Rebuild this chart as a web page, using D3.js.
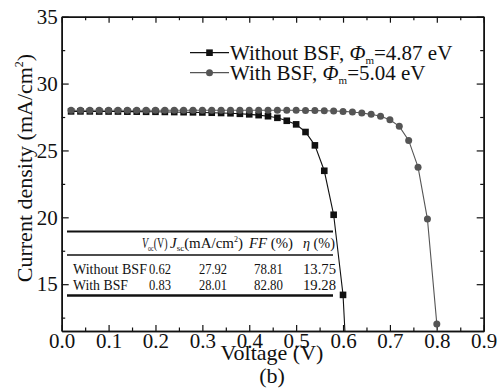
<!DOCTYPE html>
<html><head><meta charset="utf-8">
<script src="https://cdn.jsdelivr.net/npm/d3@7"></script>
</head><body style="margin:0"><svg id="c" width="501" height="389"></svg>
<script>
// ---- data ----
const voltWithout = [0.02,0.04,0.06,0.08,0.10,0.12,0.14,0.16,0.18,0.20,0.22,0.24,0.26,0.28,0.30,0.32,0.34,0.36,0.38,0.40,0.42,0.44,0.46,0.48,0.50,0.52,0.54,0.56,0.58,0.60,0.604];
const curWithout  = [27.92,27.92,27.92,27.91,27.91,27.91,27.90,27.90,27.89,27.89,27.88,27.87,27.86,27.85,27.84,27.82,27.80,27.78,27.74,27.70,27.64,27.56,27.44,27.22,26.95,26.38,25.38,23.48,20.19,14.20,11.5];
const voltWith = [0.02,0.04,0.06,0.08,0.10,0.12,0.14,0.16,0.18,0.20,0.22,0.24,0.26,0.28,0.30,0.32,0.34,0.36,0.38,0.40,0.42,0.44,0.46,0.48,0.50,0.52,0.54,0.56,0.58,0.60,0.62,0.64,0.66,0.68,0.70,0.72,0.74,0.76,0.78,0.80,0.801];
const curWith  = [28.01,28.01,28.01,28.01,28.01,28.01,28.01,28.01,28.01,28.01,28.01,28.01,28.01,28.01,28.01,28.01,28.01,28.01,28.01,28.01,28.01,28.01,28.01,28.00,28.00,27.99,27.98,27.97,27.95,27.92,27.88,27.80,27.70,27.56,27.30,26.80,25.75,23.75,19.87,12.03,11.5];
const seriesNames = ["Without BSF", "With BSF"];
const seriesPhi = ["4.87", "5.04"];
const xTicks = [0.0,0.1,0.2,0.3,0.4,0.5,0.6,0.7,0.8,0.9];
const yTicks = [15,20,25,30,35];
const tableRowNames = ["Without BSF", "With BSF"];
const tableVoc = ["0.62", "0.83"];
const tableJsc = ["27.92", "28.01"];
const tableFF  = ["78.81", "82.80"];
const tableEta = ["13.75", "19.28"];

// ---- layout ----
const F = '"Liberation Serif"';
const svg = d3.select("#c");
const L = 61.7, R = 483.7, T = 16.7, B = 331;
const x = d3.scaleLinear([0, 0.9], [L, R]);
const y = d3.scaleLinear([11.5, 35], [B, T]);
const black = "#111", grey = "#555";
function txt(sel, size){ return sel.attr("font-size",size).style("font-family",F).attr("fill",black); }

// table
const tg = svg.append("g");
tg.append("line").attr("x1",67).attr("x2",333).attr("y1",231.5).attr("y2",231.5).attr("stroke",black).attr("stroke-width",2);
tg.append("line").attr("x1",67).attr("x2",333).attr("y1",255).attr("y2",255).attr("stroke",black).attr("stroke-width",1.3);
tg.append("line").attr("x1",67).attr("x2",333).attr("y1",295.5).attr("y2",295.5).attr("stroke",black).attr("stroke-width",2.5);
function ttext(xp, yp, w){ return txt(tg.append("text").attr("x",xp).attr("y",yp),15).attr("textLength",w).attr("lengthAdjust","spacingAndGlyphs"); }
let h = ttext(142, 248, 25.5);
h.append("tspan").attr("font-style","italic").text("V");
h.append("tspan").attr("font-size",9).attr("dy",3).text("oc");
h.append("tspan").attr("dy",-3).text("(V)");
h = ttext(170, 248, 73);
h.append("tspan").attr("font-style","italic").text("J");
h.append("tspan").attr("font-size",9).attr("dy",3).text("sc");
h.append("tspan").attr("dy",-3).text("(mA/cm");
h.append("tspan").attr("font-size",8).attr("dy",-6).text("2");
h.append("tspan").attr("dy",6).text(")");
h = ttext(249, 248, 44);
h.append("tspan").attr("font-style","italic").text("FF");
h.append("tspan").text(" (%)");
h = ttext(303, 248, 32);
h.append("tspan").attr("font-style","italic").text("η");
h.append("tspan").text(" (%)");
const rowY = [273.5, 290];
const nameW = [74, 55];
tableRowNames.forEach((n,i)=>{
  ttext(73, rowY[i], nameW[i]).text(n);
  ttext(149, rowY[i], 22).text(tableVoc[i]);
  ttext(199, rowY[i], 28).text(tableJsc[i]);
  ttext(254, rowY[i], 29).text(tableFF[i]);
  ttext(303, rowY[i], 33).text(tableEta[i]);
});

// axes
function styleAxis(g){
  g.attr("font-family",null);
  g.selectAll("path").attr("stroke",black).attr("stroke-width",1.5);
  g.selectAll("line").attr("stroke",black).attr("stroke-width",1.2);
  g.selectAll("text").call(s=>txt(s,21));
}
const xMinor = [0.05,0.15,0.25,0.35,0.45,0.55,0.65,0.75,0.85];
const yMinor = [12.5,17.5,22.5,27.5,32.5];
svg.append("g").attr("transform",`translate(0,${B})`)
  .call(d3.axisBottom(x).tickValues(xTicks).tickFormat(d3.format(".1f")).tickSize(-6).tickSizeOuter(0).tickPadding(2)).call(styleAxis);
svg.append("g").attr("transform",`translate(0,${B})`)
  .call(d3.axisBottom(x).tickValues(xMinor).tickFormat("").tickSize(-3.5).tickSizeOuter(0)).call(styleAxis);
svg.append("g").attr("transform",`translate(0,${T})`)
  .call(d3.axisTop(x).tickValues(xTicks).tickFormat("").tickSize(-6).tickSizeOuter(0)).call(styleAxis);
svg.append("g").attr("transform",`translate(0,${T})`)
  .call(d3.axisTop(x).tickValues(xMinor).tickFormat("").tickSize(-3.5).tickSizeOuter(0)).call(styleAxis);
svg.append("g").attr("transform",`translate(${L},0)`)
  .call(d3.axisLeft(y).tickValues(yTicks).tickSize(-7).tickSizeOuter(0).tickPadding(4)).call(styleAxis);
svg.append("g").attr("transform",`translate(${L},0)`)
  .call(d3.axisLeft(y).tickValues(yMinor).tickFormat("").tickSize(-3.5).tickSizeOuter(0)).call(styleAxis);
svg.append("g").attr("transform",`translate(${R},0)`)
  .call(d3.axisRight(y).tickValues(yTicks).tickFormat("").tickSize(-7).tickSizeOuter(0)).call(styleAxis);
svg.append("g").attr("transform",`translate(${R},0)`)
  .call(d3.axisRight(y).tickValues(yMinor).tickFormat("").tickSize(-3.5).tickSizeOuter(0)).call(styleAxis);

// series
const plot = svg.append("g");
const line = d3.line().x(d=>x(d[0])).y(d=>y(d[1]));
const dWithout = voltWithout.map((v,i)=>[v,curWithout[i]]);
const dWith = voltWith.map((v,i)=>[v,curWith[i]]);
plot.append("path").datum(dWithout).attr("d",line).attr("fill","none").attr("stroke",black).attr("stroke-width",1.1);
plot.append("path").datum(dWith).attr("d",line).attr("fill","none").attr("stroke",grey).attr("stroke-width",1.1);
const sq = 6.6;
plot.selectAll("rect.sq").data(dWithout.filter(d=>d[1]>11.5)).join("rect").attr("class","sq")
  .attr("x",d=>x(d[0])-sq/2).attr("y",d=>y(d[1])-sq/2).attr("width",sq).attr("height",sq).attr("fill",black);
plot.selectAll("circle.ci").data(dWith.filter(d=>d[1]>11.5)).join("circle").attr("class","ci")
  .attr("cx",d=>x(d[0])).attr("cy",d=>y(d[1])).attr("r",3.5).attr("fill",grey);

// legend
const lg = svg.append("g");
const legY = [52.7, 72.7];
seriesNames.forEach((n,i)=>{
  const c = i===0 ? black : grey;
  lg.append("line").attr("x1",190).attr("x2",229).attr("y1",legY[i]).attr("y2",legY[i]).attr("stroke",c).attr("stroke-width",1.2);
  if(i===0) lg.append("rect").attr("x",209.5-sq/2).attr("y",legY[i]-sq/2).attr("width",sq).attr("height",sq).attr("fill",black);
  else lg.append("circle").attr("cx",209.5).attr("cy",legY[i]).attr("r",3.5).attr("fill",grey);
  const t = txt(lg.append("text").attr("x",230).attr("y",legY[i]+7), 21);
  t.append("tspan").text(n + ", ");
  t.append("tspan").attr("font-style","italic").text("Φ");
  t.append("tspan").attr("font-size",11).attr("dy",4).text("m");
  t.append("tspan").attr("dy",-4).text("=" + seriesPhi[i] + " eV");
});

// titles
txt(svg.append("text").attr("x",272).attr("y",360).attr("text-anchor","middle"),22).text("Voltage (V)");
txt(svg.append("text").attr("x",272).attr("y",383).attr("text-anchor","middle"),22).text("(b)");
const yt = txt(svg.append("text").attr("transform","translate(32,168) rotate(-90)").attr("text-anchor","middle"),22);
yt.append("tspan").text("Current density  (mA/cm");
yt.append("tspan").attr("font-size",12).attr("dy",-9).text("2");
yt.append("tspan").attr("dy",9).text(")");
</script></body></html>
